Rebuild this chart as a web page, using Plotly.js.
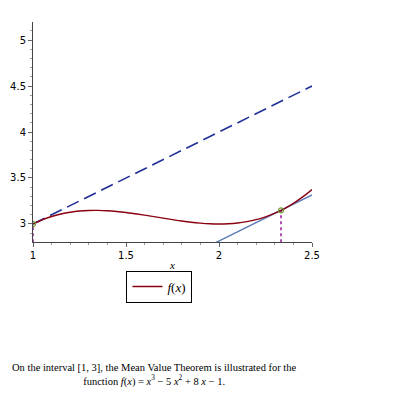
<!DOCTYPE html>
<html>
<head>
<meta charset="utf-8">
<script src="https://cdn.plot.ly/plotly-3.0.1.min.js"></script>
<style>html,body{margin:0;padding:0;background:#fff;}#chart{width:395px;height:395px;}</style>
</head>
<body>
<div id="chart"></div>
<script>
// f(x) = x^3 - 5x^2 + 8x - 1 sampled on [1, 2.5]
const curveX = [1.00,1.05,1.10,1.15,1.20,1.25,1.30,1.35,1.40,1.45,1.50,1.55,1.60,1.65,1.70,1.75,1.80,1.85,1.90,1.95,2.00,2.05,2.10,2.15,2.20,2.25,2.30,2.35,2.40,2.45,2.50];
const curveY = [3.0,3.045,3.081,3.108,3.128,3.141,3.147,3.148,3.144,3.136,3.125,3.111,3.096,3.080,3.063,3.047,3.032,3.019,3.009,3.002,3.0,3.003,3.011,3.026,3.048,3.078,3.117,3.165,3.224,3.294,3.375];
// secant line through (1, f(1)) and (3, f(3)), shown on [1, 2.5]
const secantX = [1.0, 2.5];
const secantY = [3.0, 4.5];
// tangent line at c = 7/3
const tangentX = [1.95, 2.5];
const tangentY = [2.765, 3.315];
// MVT points
const pointsX = [1.0, 2.3333];
const pointsY = [3.0, 3.1481];
// dotted guides
const guide1X = [1.0, 1.0];
const guide1Y = [2.8, 3.0];
const guide2X = [2.3333, 2.3333];
const guide2Y = [2.8, 3.1481];
const yTickVals = [3, 3.5, 4, 4.5, 5];
const yTickText = ['3', '3.5', '4', '4.5', '5'];
const xTickVals = [1, 1.5, 2, 2.5];
const xTickText = ['1', '1.5', '2', '2.5'];

const traces = [
  {x: guide1X, y: guide1Y, mode: 'lines', line: {color: '#9a1a9a', width: 1.5, dash: 'dot'}, showlegend: false, hoverinfo: 'skip'},
  {x: guide2X, y: guide2Y, mode: 'lines', line: {color: '#9a1a9a', width: 1.5, dash: 'dot'}, showlegend: false, hoverinfo: 'skip'},
  {x: secantX, y: secantY, mode: 'lines', line: {color: '#1f2f96', width: 1.6, dash: '13px,6px'}, showlegend: false},
  {x: tangentX, y: tangentY, mode: 'lines', line: {color: '#5b7cb8', width: 1.4}, showlegend: false},
  {x: curveX, y: curveY, mode: 'lines', line: {color: '#8a0010', width: 1.4, shape: 'spline'}, name: '<i>f</i>(<i>x</i>)'},
  {x: pointsX, y: pointsY, mode: 'markers', marker: {color: 'rgba(0,0,0,0)', size: 5, line: {color: '#6e9a2c', width: 1.2}}, showlegend: false}
];

const layout = {
  width: 395, height: 395,
  margin: {l: 33, r: 83, t: 22, b: 153},
  paper_bgcolor: '#fff', plot_bgcolor: '#fff',
  font: {family: 'DejaVu Sans, sans-serif', size: 10, color: '#000'},
  xaxis: {
    range: [1, 2.5], showgrid: false, zeroline: false,
    showline: true, linecolor: '#444', linewidth: 1,
    tickmode: 'array', tickvals: xTickVals, ticktext: xTickText,
    ticks: 'outside', ticklen: 4, tickcolor: '#666',
    minor: {dtick: 0.1, ticks: 'outside', ticklen: 2, tickcolor: '#999', showgrid: false},
    tickfont: {family: 'DejaVu Sans, sans-serif', size: 10},
    title: {text: '<i>x</i>', font: {family: 'Liberation Serif, serif', size: 11}, standoff: 1}
  },
  yaxis: {
    range: [2.804, 5.196], showgrid: false, zeroline: false,
    showline: true, linecolor: '#444', linewidth: 1,
    tickmode: 'array', tickvals: yTickVals, ticktext: yTickText,
    ticks: 'outside', ticklen: 4, tickcolor: '#666',
    minor: {dtick: 0.1, ticks: 'outside', ticklen: 2, tickcolor: '#999', showgrid: false},
    tickfont: {family: 'DejaVu Sans, sans-serif', size: 10}
  },
  showlegend: true,
  legend: {
    x: 0.335, xanchor: 'left', y: -0.13, yanchor: 'top',
    bordercolor: '#000', borderwidth: 1, bgcolor: '#fff',
    font: {family: 'Liberation Serif, serif', size: 13},
    itemwidth: 30, tracegroupgap: 0
  },
  annotations: [{
    xref: 'paper', yref: 'paper', x: 0.437, y: -0.605, xanchor: 'center', yanchor: 'middle',
    showarrow: false, align: 'center',
    font: {family: 'Liberation Serif, serif', size: 10.5, color: '#000'},
    text: 'On the interval [1, 3], the Mean Value Theorem is illustrated for the<br>function <i>f</i>(<i>x</i>) = <i>x</i><sup>3</sup> − 5 <i>x</i><sup>2</sup> + 8 <i>x</i> − 1.'
  }]
};

Plotly.newPlot('chart', traces, layout, {displayModeBar: false, staticPlot: true});
</script>
</body>
</html>
